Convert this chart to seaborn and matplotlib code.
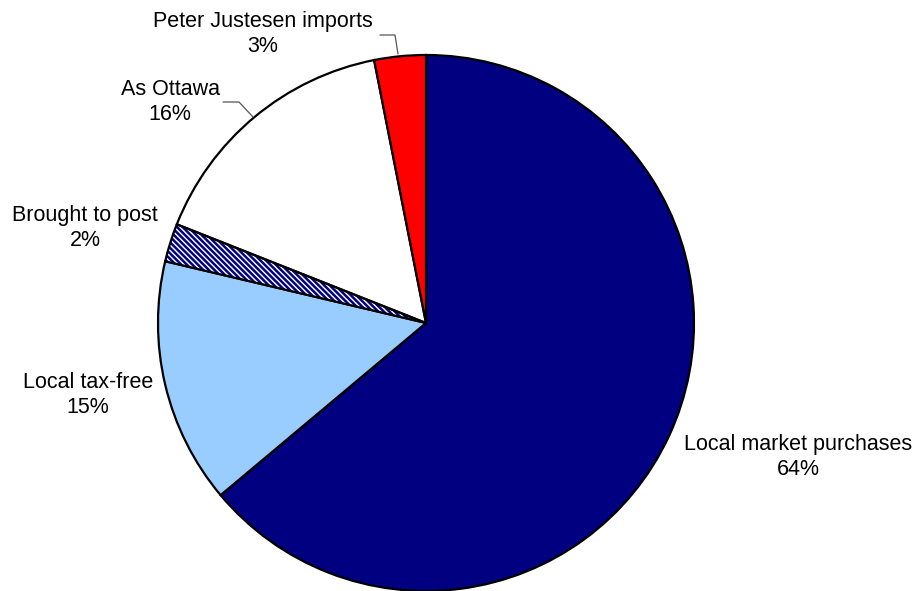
import matplotlib
matplotlib.use("Agg")
import matplotlib.pyplot as plt
from matplotlib.patches import Wedge
import seaborn as sns

# ---- data ----
categories = ["Local market purchases", "Local tax-free", "Brought to post",
              "As Ottawa", "Peter Justesen imports"]
values = [63.9, 14.8, 2.3, 15.9, 3.1]
pct_labels = ["64%", "15%", "2%", "16%", "3%"]

sns.set_theme(style="white")
plt.rcParams['font.family'] = ['Liberation Sans', 'DejaVu Sans']
plt.rcParams['hatch.linewidth'] = 1.8

colors = ["#000080", "#99CCFF", "#FFFFFF", "#FFFFFF", "#FF0000"]
hatches = [None, None, "\\\\\\\\\\\\", None, None]

W, H = 916, 591
cx, cy, R = 426, 323, 268

fig = plt.figure(figsize=(W / 100, H / 100), dpi=100)
ax = fig.add_axes([0, 0, 1, 1])

def px(x, y):
    return ((x - cx) / R, (cy - y) / R)

wedges, _ = ax.pie(values, colors=colors, startangle=90, counterclock=False,
                   radius=1.0, center=(0, 0),
                   wedgeprops=dict(edgecolor="black", linewidth=1.6))
for w, h in zip(wedges, hatches):
    w.set_clip_on(False)
    if h:
        # hatch in navy, outline in black drawn on top
        w.set_edgecolor("#000080")
        w.set_linewidth(0)
        w.set_hatch(h)
        outline = Wedge(w.center, w.r, w.theta1, w.theta2, fill=False,
                        edgecolor="black", linewidth=1.6, clip_on=False,
                        zorder=w.get_zorder() + 0.1)
        ax.add_patch(outline)

ax.set_xlim(-cx / R, (W - cx) / R)
ax.set_ylim((cy - H) / R, cy / R)
ax.set_aspect("auto")
ax.axis("off")

# label positions (pixel layout)
label_pos = [(798, 457), (88, 395), (85, 228), (170, 102), (263, 34)]
for cat, pct, (lx, ly) in zip(categories, pct_labels, label_pos):
    x, y = px(lx, ly)
    ax.text(x, y, f"{cat}\n{pct}", ha="center", va="center", fontsize=15.5,
            color="black", linespacing=1.25)

# leader lines
leaders = [[(380, 35), (395, 35), (398, 54)],
           [(223, 102), (239, 102), (253, 117)]]
for pts in leaders:
    xs, ys = zip(*[px(a, b) for a, b in pts])
    ax.plot(xs, ys, color="#555555", linewidth=0.9)

fig.savefig("out.png", dpi=100, facecolor="white")
